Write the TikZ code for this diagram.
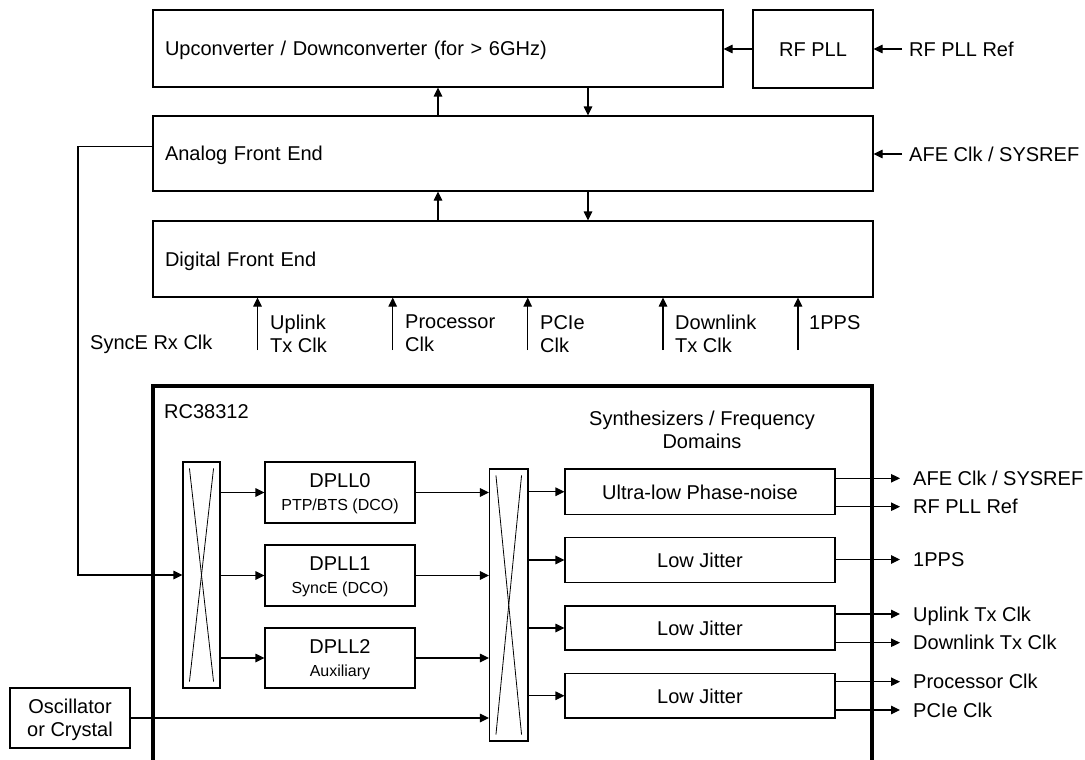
\documentclass[tikz,border=0pt]{standalone}
\usepackage{fontspec}
\setmainfont{Liberation Sans}
\usetikzlibrary{arrows.meta}
\newcommand\subtxt{\fontsize{16}{19}\selectfont}

\tikzset{
	blk/.style={draw, line width=1.1pt, inner sep=0pt},
	onel/.style={text height=14.5pt, text depth=0pt},
	lft/.style={align=left, inner xsep=12pt},
	arr/.style={line width=1.1pt, -{Triangle[length=9pt,width=8.5pt]}},
	lbl/.style={anchor=west, inner ysep=0pt, onel},
	dlbl/.style={anchor=north west, align=left, inner sep=0pt},
}

\begin{document}
\begin{tikzpicture}[x=1pt, y=-1pt, font=\fontsize{20}{23}\selectfont]
			%%%%% START %%%%%
			\useasboundingbox (0,0) rectangle (1085,760);
			
			\node[blk, onel, lft, minimum width=570pt, minimum height=77pt, text width=546pt] (upconv) at (438,48.5) {Upconverter / Downconverter (for > 6GHz)};
			\node[blk, onel, minimum width=120pt, minimum height=78pt] (rfpll) at (813,49) {RF PLL};
			\node[blk, onel, lft, minimum width=720pt, minimum height=75pt, text width=696pt] (afe) at (513,153.5) {Analog Front End};
			\node[blk, onel, lft, minimum width=720pt, minimum height=76pt, text width=696pt] (dfe) at (513,259) {Digital Front End};
			
			\node[lbl, inner xsep=7pt] (rfref) at (902,49) {RF PLL Ref};
			\node[lbl, inner xsep=7pt] (afeclk) at (902,154) {AFE Clk / SYSREF};
			\draw[arr] (rfpll.west) -- (rfpll.west -| upconv.east);
			\draw[arr] (rfref.west) -- (rfref.west -| rfpll.east);
			\draw[arr] (afeclk.west) -- (afeclk.west -| afe.east);
			
			\coordinate (upx) at (438,100);
			\coordinate (dnx) at (588,100);
			\draw[arr] (upx |- afe.north) -- (upx |- upconv.south);
			\draw[arr] (dnx |- upconv.south) -- (dnx |- afe.north);
			\draw[arr] (upx |- dfe.north) -- (upx |- afe.south);
			\draw[arr] (dnx |- afe.south) -- (dnx |- dfe.north);
			
			% clocks into the DFE
			\coordinate (ultx) at (257.5,350);
			\coordinate (proc) at (392.7,350);
			\coordinate (pcie) at (527.7,350);
			\coordinate (dltx) at (663,350);
			\coordinate (pps) at (798,350);
			\node[dlbl] (ultxlbl) at (270,315) {Uplink\\Tx Clk};
			\node[dlbl] (proclbl) at (405,315) {Processor\\Clk};
			\node[dlbl] (pcielbl) at (540,315) {PCIe\\Clk};
			\node[dlbl] (dltxlbl) at (675,315) {Downlink\\Tx Clk};
			\node[dlbl] (ppslbl) at (809,315) {1PPS};
			\draw[arr] (ultx) -- (ultx |- dfe.south);
			\draw[arr] (proc) -- (proc |- dfe.south);
			\draw[arr] (pcie) -- (pcie |- dfe.south);
			\draw[arr] (dltx) -- (dltx |- dfe.south);
			\draw[arr] (pps) -- (pps |- dfe.south);
			
			\node[lbl, inner xsep=0pt] (syncelbl) at (90,342) {SyncE Rx Clk};
			
			% the device
			\node[draw, line width=4pt, minimum width=719pt, minimum height=420pt] (rc) at (512.5,596) {};
			\node[lbl, inner xsep=0pt] (rclbl) at (164,411) {RC38312};
			\node[align=center, inner sep=0pt, text depth=0pt] (synlbl) at (702,430) {Synthesizers / Frequency\\Domains};
			
			\node[blk, minimum width=37pt, minimum height=226pt] (mux1) at (201.5,575) {};
			\draw[line width=0.8pt] ([shift={(7pt,-7pt)}]mux1.north west) -- ([shift={(-7pt,7pt)}]mux1.south east);
			\draw[line width=0.8pt] ([shift={(-7pt,-7pt)}]mux1.north east) -- ([shift={(7pt,7pt)}]mux1.south west);
			\node[blk, minimum width=38.5pt, minimum height=272pt] (mux2) at (508.75,605) {};
			\draw[line width=0.8pt] ([shift={(7pt,-7pt)}]mux2.north west) -- ([shift={(-7pt,7pt)}]mux2.south east);
			\draw[line width=0.8pt] ([shift={(-7pt,-7pt)}]mux2.north east) -- ([shift={(7pt,7pt)}]mux2.south west);
			
			\node[blk, align=center, text depth=0pt, minimum width=150pt, minimum height=61pt] (dpll0) at (340,492.5) {DPLL0\\{\subtxt PTP/BTS (DCO)}};
			\node[blk, align=center, text depth=0pt, minimum width=150pt, minimum height=61pt] (dpll1) at (340,575.5) {DPLL1\\{\subtxt SyncE (DCO)}};
			\node[blk, align=center, text depth=0pt, minimum width=150pt, minimum height=60pt] (dpll2) at (340,658) {DPLL2\\{\subtxt Auxiliary}};
			
			\node[blk, onel, minimum width=270pt, minimum height=45.5pt] (ulpn) at (700,491.75) {Ultra-low Phase-noise};
			\node[blk, onel, minimum width=270pt, minimum height=45pt] (lj1) at (700,560) {Low Jitter};
			\node[blk, onel, minimum width=270pt, minimum height=44pt] (lj2) at (700,628) {Low Jitter};
			\node[blk, onel, minimum width=270pt, minimum height=44.5pt] (lj3) at (700,695.75) {Low Jitter};
			
			\node[blk, align=center, text depth=0pt, minimum width=120pt, minimum height=60pt] (osc) at (70,718) {Oscillator\\or Crystal};
			
			\coordinate (syncbend) at (78,575);
			\draw[arr] ([yshift=7pt]afe.west) -| (syncbend) -- (mux1.west);
			
			\draw[arr] (mux1.east |- dpll0) -- (dpll0.west);
			\draw[arr] (mux1.east |- dpll1) -- (dpll1.west);
			\draw[arr] (mux1.east |- dpll2) -- (dpll2.west);
			\draw[arr] (dpll0.east) -- (dpll0.east -| mux2.west);
			\draw[arr] (dpll1.east) -- (dpll1.east -| mux2.west);
			\draw[arr] (dpll2.east) -- (dpll2.east -| mux2.west);
			\draw[arr] (osc.east) -- (osc.east -| mux2.west);
			
			\draw[arr] (mux2.east |- ulpn) -- (ulpn.west);
			\draw[arr] (mux2.east |- lj1) -- (lj1.west);
			\draw[arr] (mux2.east |- lj2) -- (lj2.west);
			\draw[arr] (mux2.east |- lj3) -- (lj3.west);
			
			% outputs
			\node[lbl, inner xsep=13pt] (oafe) at (900,478.3) {AFE Clk / SYSREF};
			\node[lbl, inner xsep=13pt] (orfref) at (900,506.7) {RF PLL Ref};
			\node[lbl, inner xsep=13pt] (opps) at (900,559.5) {1PPS};
			\node[lbl, inner xsep=13pt] (oultx) at (900,614) {Uplink Tx Clk};
			\node[lbl, inner xsep=13pt] (odltx) at (900,642.7) {Downlink Tx Clk};
			\node[lbl, inner xsep=13pt] (oproc) at (900,681.7) {Processor Clk};
			\node[lbl, inner xsep=13pt] (opcie) at (900,710) {PCIe Clk};
			\draw[arr] (ulpn.east |- oafe.west) -- (oafe.west);
			\draw[arr] (ulpn.east |- orfref.west) -- (orfref.west);
			\draw[arr] (lj1.east |- opps.west) -- (opps.west);
			\draw[arr] (lj2.east |- oultx.west) -- (oultx.west);
			\draw[arr] (lj2.east |- odltx.west) -- (odltx.west);
			\draw[arr] (lj3.east |- oproc.west) -- (oproc.west);
			\draw[arr] (lj3.east |- opcie.west) -- (opcie.west);
			
			%%%%% END %%%%%
\end{tikzpicture}
\end{document}
